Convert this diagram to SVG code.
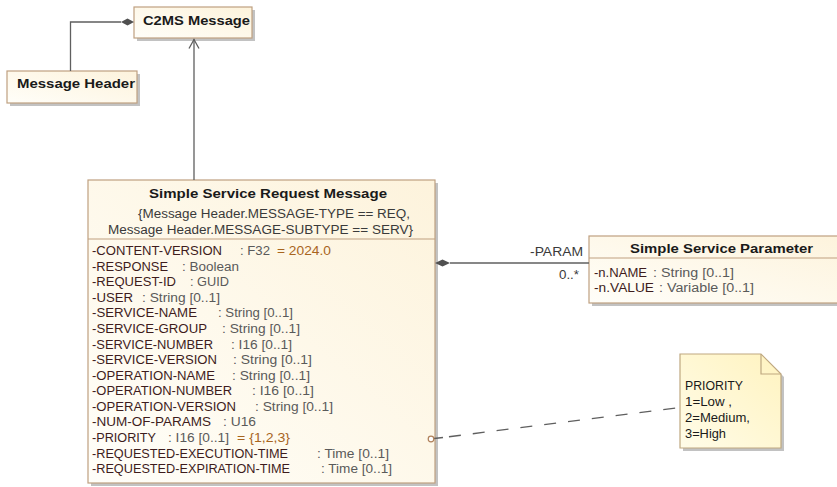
<svg xmlns="http://www.w3.org/2000/svg" width="837" height="487" viewBox="0 0 837 487">
<defs>
<linearGradient id="cls" x1="1" y1="0" x2="0" y2="1">
<stop offset="0" stop-color="#FDF3DC"/>
<stop offset="1" stop-color="#FFFEF9"/>
</linearGradient>
<linearGradient id="note" x1="1" y1="0" x2="0" y2="1">
<stop offset="0" stop-color="#FFF3C0"/>
<stop offset="1" stop-color="#FFFCE8"/>
</linearGradient>
</defs>
<style>
.box{fill:url(#cls);stroke:#BFA080;stroke-width:1.2}
.shadow{fill:#A8A8A8;opacity:0.7}
.sep{stroke:#BFA080;stroke-width:1.2}
.t{font-family:"Liberation Sans",Arial,sans-serif;font-size:12px}
.b{font-family:"Liberation Sans",Arial,sans-serif;font-size:12.5px;font-weight:bold;fill:#1A1A1A}
.nm{fill:#3E1C1C}
.ty{fill:#5A5A5A}
.val{fill:#A8651E}
.con{fill:#3A3A3A}
.ln{fill:none;stroke:#5F5F5F;stroke-width:1.3}
</style>

<g id="c2ms-message">
<rect class="shadow" x="137" y="10" width="118" height="31"/>
<rect class="box" x="134" y="7" width="118" height="31"/>
<text class="b" x="143" y="24.5" textLength="107" lengthAdjust="spacingAndGlyphs">C2MS Message</text>
</g>

<g id="message-header">
<rect class="shadow" x="10" y="74" width="130" height="32"/>
<rect class="box" x="7" y="71" width="130" height="32"/>
<text class="b" x="17" y="87.5" textLength="118" lengthAdjust="spacingAndGlyphs">Message Header</text>
</g>

<g id="simple-service-request-message">
<rect class="shadow" x="91" y="183" width="347" height="303"/>
<rect class="box" x="88" y="180" width="347" height="303"/>
<line class="sep" x1="88" y1="239" x2="435" y2="239"/>
<text class="b" x="149" y="197.5" textLength="238" lengthAdjust="spacingAndGlyphs">Simple Service Request Message</text>
<text class="t con" x="138" y="217.5" textLength="272" lengthAdjust="spacingAndGlyphs">{Message Header.MESSAGE-TYPE == REQ,</text>
<text class="t con" x="108" y="233.5" textLength="305" lengthAdjust="spacingAndGlyphs">Message Header.MESSAGE-SUBTYPE == SERV}</text>

<text class="t nm" x="92" y="255" textLength="130" lengthAdjust="spacingAndGlyphs">-CONTENT-VERSION</text>
<text class="t ty" x="240" y="255" textLength="30" lengthAdjust="spacingAndGlyphs">: F32</text>
<text class="t val" x="277" y="255" textLength="54" lengthAdjust="spacingAndGlyphs">= 2024.0</text>

<text class="t nm" x="92" y="270.6" textLength="76" lengthAdjust="spacingAndGlyphs">-RESPONSE</text>
<text class="t ty" x="182" y="270.6" textLength="57" lengthAdjust="spacingAndGlyphs">: Boolean</text>

<text class="t nm" x="92" y="286.2" textLength="84" lengthAdjust="spacingAndGlyphs">-REQUEST-ID</text>
<text class="t ty" x="190" y="286.2" textLength="39" lengthAdjust="spacingAndGlyphs">: GUID</text>

<text class="t nm" x="92" y="301.7" textLength="41" lengthAdjust="spacingAndGlyphs">-USER</text>
<text class="t ty" x="142" y="301.7" textLength="78" lengthAdjust="spacingAndGlyphs">: String [0..1]</text>

<text class="t nm" x="92" y="317.3" textLength="105" lengthAdjust="spacingAndGlyphs">-SERVICE-NAME</text>
<text class="t ty" x="218" y="317.3" textLength="75" lengthAdjust="spacingAndGlyphs">: String [0..1]</text>

<text class="t nm" x="92" y="332.9" textLength="115" lengthAdjust="spacingAndGlyphs">-SERVICE-GROUP</text>
<text class="t ty" x="222" y="332.9" textLength="78" lengthAdjust="spacingAndGlyphs">: String [0..1]</text>

<text class="t nm" x="92" y="348.5" textLength="121" lengthAdjust="spacingAndGlyphs">-SERVICE-NUMBER</text>
<text class="t ty" x="231" y="348.5" textLength="61" lengthAdjust="spacingAndGlyphs">: I16 [0..1]</text>

<text class="t nm" x="92" y="364.1" textLength="125" lengthAdjust="spacingAndGlyphs">-SERVICE-VERSION</text>
<text class="t ty" x="233" y="364.1" textLength="79" lengthAdjust="spacingAndGlyphs">: String [0..1]</text>

<text class="t nm" x="92" y="379.6" textLength="123" lengthAdjust="spacingAndGlyphs">-OPERATION-NAME</text>
<text class="t ty" x="232" y="379.6" textLength="78" lengthAdjust="spacingAndGlyphs">: String [0..1]</text>

<text class="t nm" x="92" y="395.2" textLength="140" lengthAdjust="spacingAndGlyphs">-OPERATION-NUMBER</text>
<text class="t ty" x="252" y="395.2" textLength="62" lengthAdjust="spacingAndGlyphs">: I16 [0..1]</text>

<text class="t nm" x="92" y="410.8" textLength="144" lengthAdjust="spacingAndGlyphs">-OPERATION-VERSION</text>
<text class="t ty" x="255" y="410.8" textLength="78" lengthAdjust="spacingAndGlyphs">: String [0..1]</text>

<text class="t nm" x="92" y="426.4" textLength="119" lengthAdjust="spacingAndGlyphs">-NUM-OF-PARAMS</text>
<text class="t ty" x="223" y="426.4" textLength="33" lengthAdjust="spacingAndGlyphs">: U16</text>

<text class="t nm" x="92" y="442" textLength="64" lengthAdjust="spacingAndGlyphs">-PRIORITY</text>
<text class="t ty" x="168" y="442" textLength="61" lengthAdjust="spacingAndGlyphs">: I16 [0..1]</text>
<text class="t val" x="237" y="442" textLength="53" lengthAdjust="spacingAndGlyphs">= {1,2,3}</text>

<text class="t nm" x="92" y="457.5" textLength="196" lengthAdjust="spacingAndGlyphs">-REQUESTED-EXECUTION-TIME</text>
<text class="t ty" x="317" y="457.5" textLength="72" lengthAdjust="spacingAndGlyphs">: Time [0..1]</text>

<text class="t nm" x="92" y="473.1" textLength="198" lengthAdjust="spacingAndGlyphs">-REQUESTED-EXPIRATION-TIME</text>
<text class="t ty" x="321" y="473.1" textLength="71" lengthAdjust="spacingAndGlyphs">: Time [0..1]</text>
</g>

<g id="simple-service-parameter">
<rect class="shadow" x="592" y="239" width="260" height="67"/>
<rect class="box" x="589" y="236" width="260" height="67"/>
<line class="sep" x1="589" y1="258" x2="849" y2="258"/>
<text class="b" x="630" y="252.5" textLength="183" lengthAdjust="spacingAndGlyphs">Simple Service Parameter</text>
<text class="t nm" x="594" y="277" textLength="53" lengthAdjust="spacingAndGlyphs">-n.NAME</text>
<text class="t ty" x="653" y="277" textLength="81" lengthAdjust="spacingAndGlyphs">: String [0..1]</text>
<text class="t nm" x="594" y="292" textLength="60" lengthAdjust="spacingAndGlyphs">-n.VALUE</text>
<text class="t ty" x="659" y="292" textLength="95" lengthAdjust="spacingAndGlyphs">: Variable [0..1]</text>
</g>

<g id="priority-note">
<polygon class="shadow" points="683,357 764,357 784,377 784,451 683,451"/>
<polygon points="680,354 761,354 781,374 781,448 680,448" fill="url(#note)" stroke="#BFA880" stroke-width="1.2"/>
<polyline points="761,354 761,374 781,374" fill="none" stroke="#BFA880" stroke-width="1.2"/>
<text class="t" x="685" y="389.5" fill="#1A1A1A" textLength="58" lengthAdjust="spacingAndGlyphs">PRIORITY</text>
<text class="t" x="685" y="405.5" fill="#1A1A1A" textLength="47" lengthAdjust="spacingAndGlyphs">1=Low ,</text>
<text class="t" x="685" y="421.5" fill="#1A1A1A" textLength="65" lengthAdjust="spacingAndGlyphs">2=Medium,</text>
<text class="t" x="685" y="437.5" fill="#1A1A1A" textLength="41" lengthAdjust="spacingAndGlyphs">3=High</text>
</g>

<g id="connectors">
<polyline class="ln" points="70.5,71 70.5,22 121,22"/>
<polygon points="121,22 127.5,18.5 134,22 127.5,25.5" fill="#505050"/>
<line class="ln" x1="194" y1="180" x2="194" y2="39"/>
<polyline class="ln" points="189,48.5 194,39.5 199,48.5"/>
<line class="ln" x1="450" y1="263" x2="589" y2="263"/>
<polygon points="435,263 442.5,259.5 450,263 442.5,266.5" fill="#505050"/>
<text class="t" x="530" y="256" fill="#3A3A3A" textLength="53" lengthAdjust="spacingAndGlyphs">-PARAM</text>
<text class="t" x="559" y="279" fill="#3A3A3A" textLength="20" lengthAdjust="spacingAndGlyphs">0..*</text>
<line x1="434" y1="438.5" x2="443" y2="437.5" stroke="#5F5F5F" stroke-width="1.3"/>
<line x1="443" y1="437.5" x2="680" y2="407.5" stroke="#5F5F5F" stroke-width="1.3" stroke-dasharray="0,6,12,6"/>
<circle cx="431" cy="439" r="2.8" fill="#FFFFFF" stroke="#B0805A" stroke-width="1.2"/>
</g>
</svg>
